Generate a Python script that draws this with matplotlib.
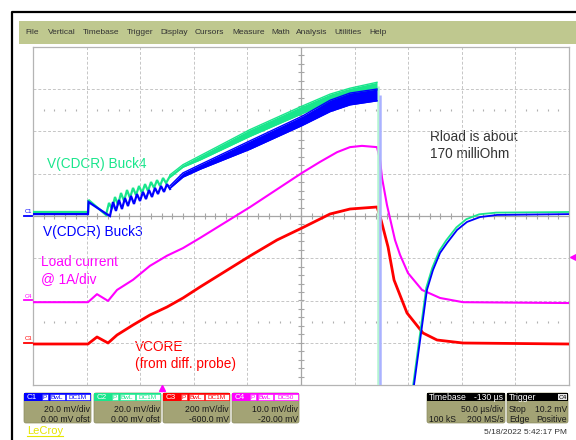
import matplotlib
matplotlib.use("Agg")
import numpy as np
import matplotlib.pyplot as plt
from matplotlib.patches import Rectangle, FancyBboxPatch

plt.rcParams['font.family'] = ['Liberation Sans', 'DejaVu Sans']

# ---------------- acquisition settings ----------------
T_LEFT, T_DIV = -120.0, 50.0          # time at left edge (us), us/div
N_HDIV, N_VDIV = 10, 8
TRIG_LEVEL = 10.2                     # mV on C4

# channel scale (mV/div) and offset (mV)
C1_SCALE, C1_OFST = 20.0, 0.0
C2_SCALE, C2_OFST = 20.0, 0.0
C3_SCALE, C3_OFST = 200.0, -600.0
C4_SCALE, C4_OFST = 10.0, -20.0

# ---------------- C2 : V(CDCR) Buck4 (mV) ----------------
c2_t = [-120.0, -68.7, -68.2, -51.9, -49.1, -46.3, -43.5, -40.7, -37.9, -35.1, -32.3,
        -29.5, -26.7, -23.9, -21.1, -18.3, -15.5, -12.7, -9.9, -7.1, -4.3, -1.5, 1.3, 4.1, 7.8]
c2_v = [1.9, 1.9, 7.6, 0.5, 6.2, 3.3, 9.0, 5.2, 10.9, 7.1, 12.3,
        8.5, 13.3, 9.9, 14.2, 10.9, 15.1, 11.8, 16.1, 13.3, 17.0, 14.2, 18.0, 15.6, 18.9]
c2_band_t = [7.8, 19.9, 35.8, 82.4, 130.9, 157.1, 175.7, 200.9]
c2_band_v = [18.9, 23.7, 27.5, 39.3, 50.2, 55.9, 58.7, 61.5]
c2_band_hw = [0.6, 0.6, 1.0, 1.6, 1.8, 1.8, 1.8, 1.8]
c2_edge_t = 201.4
c2_rec_t = [228.0, 234.6, 246.8, 252.4, 259.0, 265.5, 274.9, 284.2, 296.2, 312.0, 380.0]
c2_rec_v = [-160.0, -80.0, -34.0, -24.6, -16.5, -11.5, -5.4, -1.5, 0.8, 1.6, 1.9]

# ---------------- C1 : V(CDCR) Buck3 (mV) ----------------
c1_t = [-120.0, -68.7, -68.2, -50.0, -48.2, -45.4, -42.6, -39.8, -37.0, -34.2, -31.4,
        -28.6, -25.8, -23.0, -20.2, -17.4, -14.6, -11.8, -9.0, -6.2, -3.4, -0.6, 2.2, 5.0, 7.8]
c1_v = [0.9, 0.9, 6.6, 0.5, 0.0, 6.6, 2.4, 7.6, 3.3, 8.5, 4.7,
        9.5, 5.7, 10.4, 7.1, 11.4, 8.0, 12.3, 9.0, 13.3, 10.4, 14.2, 11.4, 15.1, 12.8]
c1_band_t = [7.8, 19.9, 35.8, 82.4, 130.9, 157.1, 175.7, 200.9]
c1_band_v = [13.7, 19.4, 23.2, 33.6, 45.0, 52.1, 55.4, 57.3]
c1_band_hw = [0.6, 1.0, 1.1, 2.0, 2.2, 2.7, 2.8, 2.8]
c1_edge_t = 203.7
c1_rec_t = [228.9, 235.4, 247.5, 253.1, 259.7, 266.2, 275.6, 284.9, 297.0, 312.9, 380.0]
c1_rec_v = [-160.0, -80.0, -35.0, -25.6, -17.5, -12.8, -6.6, -2.8, -0.5, 0.5, 0.9]

# ---------------- C4 : load current, 10 mV = 1 A ----------------
c4_t = [-120.0, -68.7, -60.3, -50.0, -41.6, -26.7, -10.9, 5.0, 19.9, 35.8,
        82.4, 130.9, 147.7, 163.6, 175.7, 186.9, 200.9,
        203.7, 205.6, 210.2, 217.7, 222.4, 229.8, 242.9, 259.7, 281.1, 380.0]
c4_v = [-0.4, -0.4, 1.5, -0.1, 2.5, 4.9, 8.2, 10.6, 12.4, 14.8,
        22.1, 30.2, 32.8, 35.1, 36.3, 36.6, 36.3,
        33.3, 29.0, 22.6, 14.3, 10.8, 6.5, 2.5, 0.6, -0.4, -0.6]

# ---------------- C3 : VCORE (mV) ----------------
c3_t = [-120.0, -68.7, -60.3, -50.0, -41.6, -26.7, -10.9, 5.0, 19.9, 35.8,
        82.4, 107.6, 130.9, 157.1, 175.7, 200.9,
        203.7, 211.2, 216.8, 228.9, 243.8, 256.9, 281.1, 380.0]
c3_v = [-5.9, -5.9, 27.3, -1.2, 36.7, 84.0, 131.4, 169.2, 211.8, 263.9,
        410.7, 486.4, 543.2, 609.5, 633.1, 642.6,
        600.0, 453.3, 297.0, 140.8, 46.2, 13.0, -1.2, -5.9]

# ---------------- screen texts ----------------
menu_items = ['File', 'Vertical', 'Timebase', 'Trigger', 'Display', 'Cursors',
              'Measure', 'Math', 'Analysis', 'Utilities', 'Help']
menu_x = [25, 48, 83, 127, 160, 195, 232, 271, 296, 334, 369]

chan_names = ['C1', 'C2', 'C3', 'C4']
chan_colors = ['#0000ff', '#19e68c', '#ff0000', '#ff00ff']
chan_coupling = ['DC1M', 'DC1M', 'DC1M', 'DC50']
chan_vdiv_txt = ['20.0 mV/div', '20.0 mV/div', '200 mV/div', '10.0 mV/div']
chan_ofst_txt = ['0.00 mV ofst', '0.00 mV ofst', '-600.0 mV', '-20.00 mV']
timebase_txt = ['-130 µs', '50.0 µs/div', '100 kS', '200 MS/s']
trigger_txt = ['C4', 'Stop', '10.2 mV', 'Edge', 'Positive']
date_txt = '5/18/2022 5:42:17 PM'

BLUE, GREEN, RED, MAG = chan_colors[0], chan_colors[1], chan_colors[2], chan_colors[3]
BOX = '#a3a375'

W, H = 576, 440
fig = plt.figure(figsize=(W / 100, H / 100), dpi=100)
fig.patch.set_facecolor('white')

# pixel-space layer for the instrument frame
deco = fig.add_axes([0, 0, 1, 1], zorder=0)
deco.set_xlim(0, W)
deco.set_ylim(H, 0)
deco.axis('off')

# screen geometry (pixels)
GX0, GY0, GW, GH = 33, 47, 536, 338

# window frame
deco.plot([11.5, 11.5, W], [H, 12.5, 12.5], color='black', lw=1.6, solid_capstyle='butt')
deco.add_patch(Rectangle((19, 21), W - 19, 23, facecolor='#bfc88f', edgecolor='none'))
for name, x in zip(menu_items, menu_x):
    deco.text(x, 33, name, fontsize=6, color='#333333', va='center', ha='left')

# scope display
ax = fig.add_axes([GX0 / W, 1 - (GY0 + GH) / H, GW / W, GH / H], zorder=1)
ax.patch.set_alpha(0)
t_right = T_LEFT + N_HDIV * T_DIV
ax.set_xlim(T_LEFT, t_right)
ax.set_ylim(-N_VDIV / 2, N_VDIV / 2)
ax.set_xticks([])
ax.set_yticks([])
for sp in ax.spines.values():
    sp.set_color('#b4b4b4')
    sp.set_linewidth(0.9)

t_center = T_LEFT + N_HDIV / 2 * T_DIV
grid_kw = dict(color='#c6c6c6', lw=0.7, ls=(0, (3, 2)), zorder=1)
for k in range(1, N_HDIV):
    tk = T_LEFT + k * T_DIV
    if k == N_HDIV // 2:
        ax.axvline(tk, color='#a6a6a6', lw=0.9, zorder=1)
    else:
        ax.axvline(tk, **grid_kw)
for j in range(-N_VDIV // 2 + 1, N_VDIV // 2):
    if j == 0:
        ax.axhline(0, color='#a6a6a6', lw=0.9, zorder=1)
    else:
        ax.axhline(j, **grid_kw)

# minor ticks: center cross and the rows at +/-2.5 div
minor_t = np.arange(T_LEFT, t_right + 0.1, T_DIV / 5)
ax.vlines(minor_t, -0.07, 0.07, color='#a6a6a6', lw=0.8, zorder=1)
minor_y = np.arange(-N_VDIV / 2, N_VDIV / 2 + 0.01, 0.2)
ax.hlines(minor_y, t_center - 2.8, t_center + 2.8, color='#a6a6a6', lw=0.8, zorder=1)
dots_t = [t for t in minor_t if abs((t - T_LEFT) / T_DIV - round((t - T_LEFT) / T_DIV)) > 1e-6]
for row in (2.5, -2.5):
    ax.vlines(dots_t, row - 0.025, row + 0.025, color='#b0b0b0', lw=0.8, zorder=1)


def to_div(v, scale, ofst):
    return (np.asarray(v, dtype=float) + ofst) / scale


def draw_buck(t, v, bt, bv, bhw, edge_t, rt, rv, scale, ofst, color, edge_color, z):
    ax.plot(t, to_div(v, scale, ofst), color=color, lw=1.6, zorder=z,
            solid_joinstyle='miter')
    bv = np.asarray(bv)
    bhw = np.asarray(bhw)
    ax.fill_between(bt, to_div(bv - bhw, scale, ofst), to_div(bv + bhw, scale, ofst),
                    color=color, lw=0, zorder=z)
    ax.plot(bt, to_div(bv - bhw, scale, ofst), color=color, lw=1.0, zorder=z)
    ax.plot(bt, to_div(bv + bhw, scale, ofst), color=color, lw=1.0, zorder=z)
    ax.vlines(edge_t, -N_VDIV / 2 - 0.2, to_div(bv[-1], scale, ofst),
              color=edge_color, lw=1.8, zorder=z - 0.5)
    ax.plot(rt, to_div(rv, scale, ofst), color=color, lw=1.3, zorder=z)


draw_buck(c2_t, c2_v, c2_band_t, c2_band_v, c2_band_hw, c2_edge_t, c2_rec_t, c2_rec_v,
          C2_SCALE, C2_OFST, GREEN, '#b4f4d2', 4)
draw_buck(c1_t, c1_v, c1_band_t, c1_band_v, c1_band_hw, c1_edge_t, c1_rec_t, c1_rec_v,
          C1_SCALE, C1_OFST, BLUE, '#aab2ff', 5)
ax.plot(c4_t, to_div(c4_v, C4_SCALE, C4_OFST), color=MAG, lw=1.5, zorder=3)
ax.plot(c3_t, to_div(c3_v, C3_SCALE, C3_OFST), color=RED, lw=2.0, zorder=3)

# trigger markers
ax.plot([0], [-N_VDIV / 2 - 0.07], marker='^', ms=4.5, color=MAG, clip_on=False, zorder=6)
ax.plot([t_right + 3.5 * T_DIV / (GW / N_HDIV)], [to_div(TRIG_LEVEL, C4_SCALE, C4_OFST)],
        marker='<', ms=4.5, color=MAG, clip_on=False, zorder=6)


def div_to_py(d):
    return GY0 + GH / 2 - d * GH / N_VDIV


# channel ground markers in the left margin
for name, col, sc, of in [('C1', BLUE, C1_SCALE, C1_OFST), ('C4', MAG, C4_SCALE, C4_OFST),
                          ('C3', RED, C3_SCALE, C3_OFST)]:
    py = div_to_py(of / sc)
    deco.text(25, py - 4.5, name, fontsize=4.2, color=col, ha='left', va='center')
    deco.plot([24, GX0], [py, py], color=col, lw=1.3)

# trace annotations
lab = dict(fontsize=9.8, va='center', ha='left')
deco.text(47, 164, 'V(CDCR) Buck4', color=GREEN, **lab)
deco.text(43, 232, 'V(CDCR) Buck3', color=BLUE, **lab)
deco.text(41, 262, 'Load current', color=MAG, **lab)
deco.text(41, 279, '@ 1A/div', color=MAG, **lab)
deco.text(135, 347, 'VCORE', color=RED, **lab)
deco.text(135, 364, '(from diff. probe)', color=RED, **lab)
deco.text(430, 137, 'Rload is about', color='#333333', **lab)
deco.text(430, 154, '170 milliOhm', color='#333333', **lab)

# channel descriptor boxes
BY0, BY1 = 393, 423
box_x = [24, 94, 163, 232]
BW = 67
for i in range(4):
    x0 = box_x[i]
    col = chan_colors[i]
    deco.add_patch(FancyBboxPatch((x0, BY0), BW, BY1 - BY0, boxstyle='round,pad=0,rounding_size=2',
                                  facecolor=BOX, edgecolor='#8a8a60', lw=0.5))
    deco.add_patch(Rectangle((x0, BY0), BW, 8.5, facecolor=col, edgecolor='none'))
    deco.text(x0 + 2.5, BY0 + 4.3, chan_names[i], fontsize=5.8, color='white', va='center')
    for bx, bw, s in [(x0 + 18, 6, 'P'), (x0 + 25.5, 15, 'BwL'), (x0 + 42, 24, chan_coupling[i])]:
        deco.add_patch(Rectangle((bx, BY0 + 1), bw, 6.5, facecolor='white', edgecolor=col, lw=0.4))
        deco.text(bx + bw / 2, BY0 + 4.4, s, fontsize=4.6, color=col, ha='center', va='center')
    deco.text(x0 + BW - 1, 409, chan_vdiv_txt[i], fontsize=6.2, color='#1a1a1a', ha='right', va='center')
    deco.text(x0 + BW - 1, 419, chan_ofst_txt[i], fontsize=6.2, color='#1a1a1a', ha='right', va='center')

# timebase box
tx0, tw = 427, 78
deco.add_patch(FancyBboxPatch((tx0, BY0), tw, BY1 - BY0, boxstyle='round,pad=0,rounding_size=2',
                              facecolor=BOX, edgecolor='#8a8a60', lw=0.5))
deco.add_patch(Rectangle((tx0, BY0), tw, 8.5, facecolor='black', edgecolor='none'))
deco.text(tx0 + 2, BY0 + 4.3, 'Timebase', fontsize=6.2, color='white', va='center')
deco.text(tx0 + tw - 1.5, BY0 + 4.3, timebase_txt[0], fontsize=6.2, color='white', va='center', ha='right')
deco.text(tx0 + tw - 1.5, 409, timebase_txt[1], fontsize=6.2, color='#1a1a1a', va='center', ha='right')
deco.text(tx0 + 2, 419, timebase_txt[2], fontsize=6.2, color='#1a1a1a', va='center', ha='left')
deco.text(tx0 + tw - 1.5, 419, timebase_txt[3], fontsize=6.2, color='#1a1a1a', va='center', ha='right')

# trigger box
gx0, gw = 507, 61
deco.add_patch(FancyBboxPatch((gx0, BY0), gw, BY1 - BY0, boxstyle='round,pad=0,rounding_size=2',
                              facecolor=BOX, edgecolor='#8a8a60', lw=0.5))
deco.add_patch(Rectangle((gx0, BY0), gw, 8.5, facecolor='black', edgecolor='none'))
deco.text(gx0 + 2, BY0 + 4.3, 'Trigger', fontsize=6.2, color='white', va='center')
deco.add_patch(Rectangle((gx0 + gw - 10, BY0 + 1), 9, 6.5, facecolor='#e8e8e8', edgecolor='none'))
deco.text(gx0 + gw - 5.5, BY0 + 4.4, trigger_txt[0], fontsize=4.6, color='black', ha='center', va='center')
deco.text(gx0 + 2, 409, trigger_txt[1], fontsize=6.2, color='#1a1a1a', va='center', ha='left')
deco.text(gx0 + gw - 1, 409, trigger_txt[2], fontsize=6.2, color='#1a1a1a', va='center', ha='right')
deco.text(gx0 + 2, 419, trigger_txt[3], fontsize=6.2, color='#1a1a1a', va='center', ha='left')
deco.text(gx0 + gw - 1, 419, trigger_txt[4], fontsize=6.2, color='#1a1a1a', va='center', ha='right')

# brand and timestamp
deco.text(27, 431, 'LeCroy', fontsize=8, color='#e6e600', va='center', ha='left')
deco.plot([27, 63], [436.5, 436.5], color='#e6e600', lw=0.8)
deco.text(567, 432, date_txt, fontsize=6, color='#333333', va='center', ha='right')

fig.savefig('out.png', dpi=100, facecolor='white')
